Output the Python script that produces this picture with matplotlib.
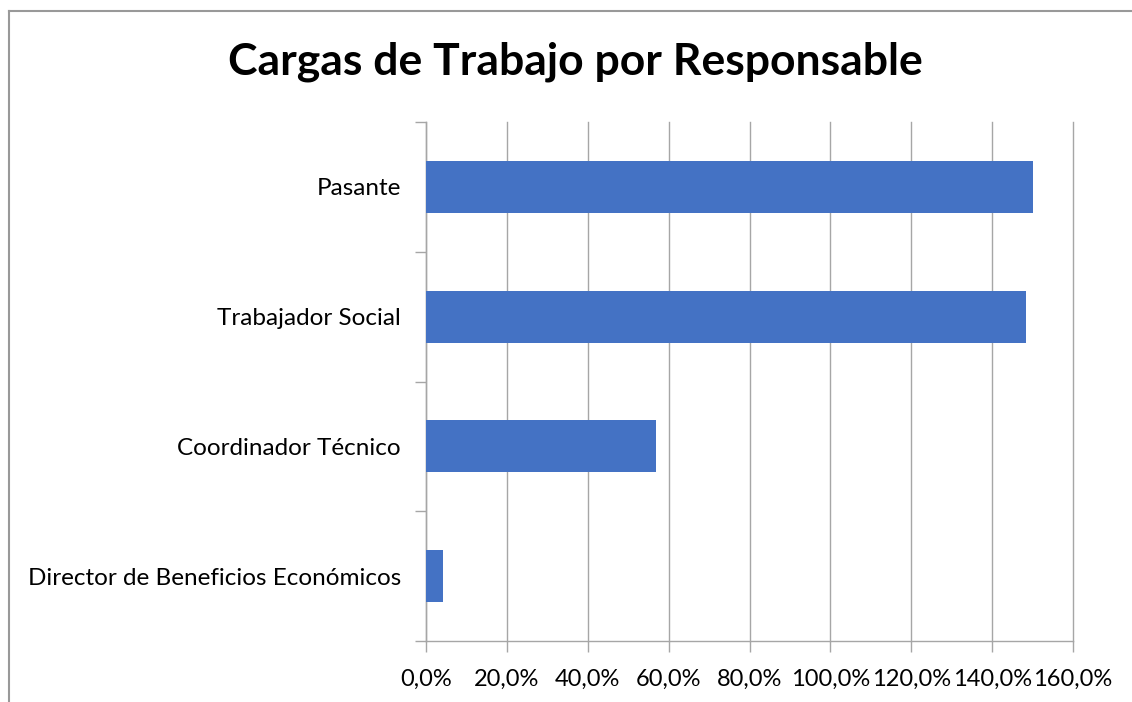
import matplotlib
matplotlib.use("Agg")
import matplotlib.pyplot as plt
from matplotlib.ticker import FuncFormatter, MultipleLocator, FixedLocator
from matplotlib.lines import Line2D

# Data (bottom to top)
categories = ["Director de Beneficios Económicos", "Coordinador Técnico",
              "Trabajador Social", "Pasante"]
workload_pct = [4.2, 56.8, 148.4, 150.0]

title = "Cargas de Trabajo por Responsable"
bar_color = "#4472C4"
grid_color = "#A6A6A6"

plt.rcParams["font.family"] = ["Lato", "DejaVu Sans"]

W, H = 1132, 702
fig = plt.figure(figsize=(W / 100, H / 100), dpi=100)
ax = fig.add_axes([426 / W, 1 - 641 / H, (1073 - 426) / W, (641 - 122) / H])

y = list(range(len(categories)))
ax.barh(y, workload_pct, height=0.4, color=bar_color, zorder=3)

ax.set_xlim(0, 160)
ax.set_ylim(-0.5, len(categories) - 0.5)
ax.xaxis.set_major_locator(MultipleLocator(20))
ax.xaxis.set_major_formatter(FuncFormatter(lambda v, p: f"{v:.1f}".replace(".", ",") + "%"))
ax.grid(axis="x", color=grid_color, linewidth=1.0, zorder=0)
for gl in ax.get_xgridlines():
    gl.set_clip_on(False)

ax.set_yticks(y)
ax.set_yticklabels(categories)
ax.yaxis.set_minor_locator(FixedLocator([i - 0.5 for i in range(len(categories) + 1)]))
ax.tick_params(axis="y", which="major", length=0, pad=18, labelsize=17.5)
ax.tick_params(axis="y", which="minor", length=8, color=grid_color, width=1.0)
ax.tick_params(axis="x", which="major", length=8, color=grid_color, width=1.0,
               labelsize=17, pad=12)

for side in ("top", "right"):
    ax.spines[side].set_visible(False)
for side in ("left", "bottom"):
    ax.spines[side].set_color(grid_color)
    ax.spines[side].set_linewidth(1.0)

fig.text(575 / W, 1 - 62 / H, title, ha="center", va="center",
         fontsize=32, fontweight="bold")

# Chart area frame (top and left edges)
frame_kw = dict(color="#999999", linewidth=1.5, transform=fig.transFigure)
fig.add_artist(Line2D([8.5 / W, 1], [1 - 10.5 / H, 1 - 10.5 / H], **frame_kw))
fig.add_artist(Line2D([8.5 / W, 8.5 / W], [0, 1 - 10.5 / H], **frame_kw))

fig.savefig("out.png", dpi=100, facecolor="white")
